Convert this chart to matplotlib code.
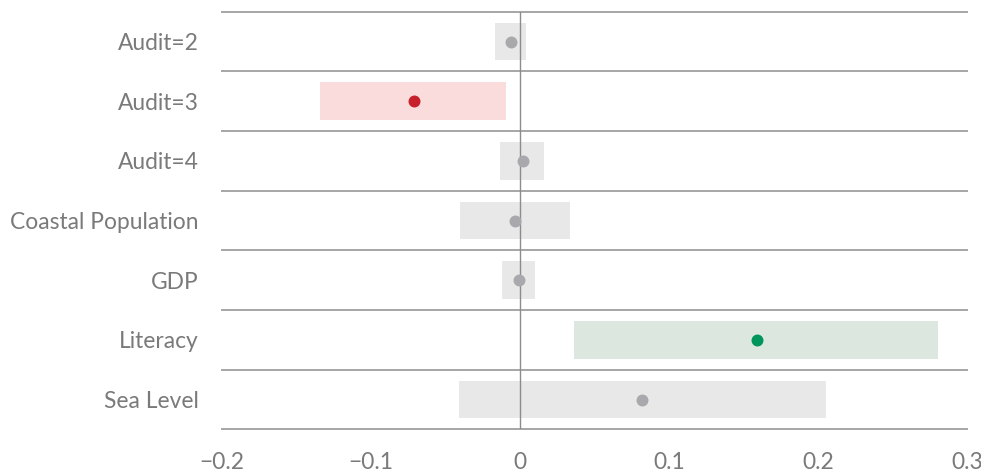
import matplotlib
matplotlib.use("Agg")
import matplotlib.pyplot as plt
from matplotlib.patches import Rectangle

# Coefficient estimates with confidence intervals
terms = ["Audit=2", "Audit=3", "Audit=4", "Coastal Population", "GDP", "Literacy", "Sea Level"]
estimate = [-0.006, -0.0714, 0.0018, -0.0032, -0.0005, 0.159, 0.0819]
ci_low = [-0.0166, -0.134, -0.0133, -0.0402, -0.0119, 0.0364, -0.0408]
ci_high = [0.004, -0.0092, 0.0164, 0.0339, 0.0103, 0.2808, 0.2054]
x_ticks = [-0.2, -0.1, 0, 0.1, 0.2, 0.3]
x_tick_labels = ["\u22120.2", "\u22120.1", "0", "0.1", "0.2", "0.3"]

plt.rcParams["font.family"] = ["Lato", "DejaVu Sans"]

fig = plt.figure(figsize=(9.81, 4.75), dpi=100)
ax = fig.add_axes([0.2263, 0.0958, 0.9857 - 0.2263, 0.9754 - 0.0958])

band_h = 0.63
for i, (lo, hi, est) in enumerate(zip(ci_low, ci_high, estimate)):
    if lo > 0:
        band, dot = "#dce8df", "#00955a"
    elif hi < 0:
        band, dot = "#fadcdc", "#c8202a"
    else:
        band, dot = "#e8e8e8", "#a9a9ad"
    ax.add_patch(Rectangle((lo, i - band_h / 2), hi - lo, band_h,
                           facecolor=band, edgecolor="none", zorder=1))
    ax.plot(est, i, "o", color=dot, markersize=8.6, markeredgewidth=0, zorder=4)

ax.axvline(0, color="#8c8c8c", linewidth=1.0, zorder=3)
for k in range(len(terms) + 1):
    ax.axhline(k - 0.5, color="#a6a6a6", linewidth=1.4, zorder=2, clip_on=False)

ax.set_xlim(-0.2, 0.3)
ax.set_ylim(len(terms) - 0.5, -0.5)
ax.set_yticks(range(len(terms)))
ax.set_yticklabels(terms)
ax.set_xticks(x_ticks)
ax.set_xticklabels(x_tick_labels)
ax.tick_params(axis="both", length=0, labelsize=16.4, labelcolor="#7a7a7a")
ax.tick_params(axis="y", pad=17)
ax.tick_params(axis="x", pad=16)
for s in ax.spines.values():
    s.set_visible(False)

fig.savefig("out.png", dpi=100, facecolor="white")
